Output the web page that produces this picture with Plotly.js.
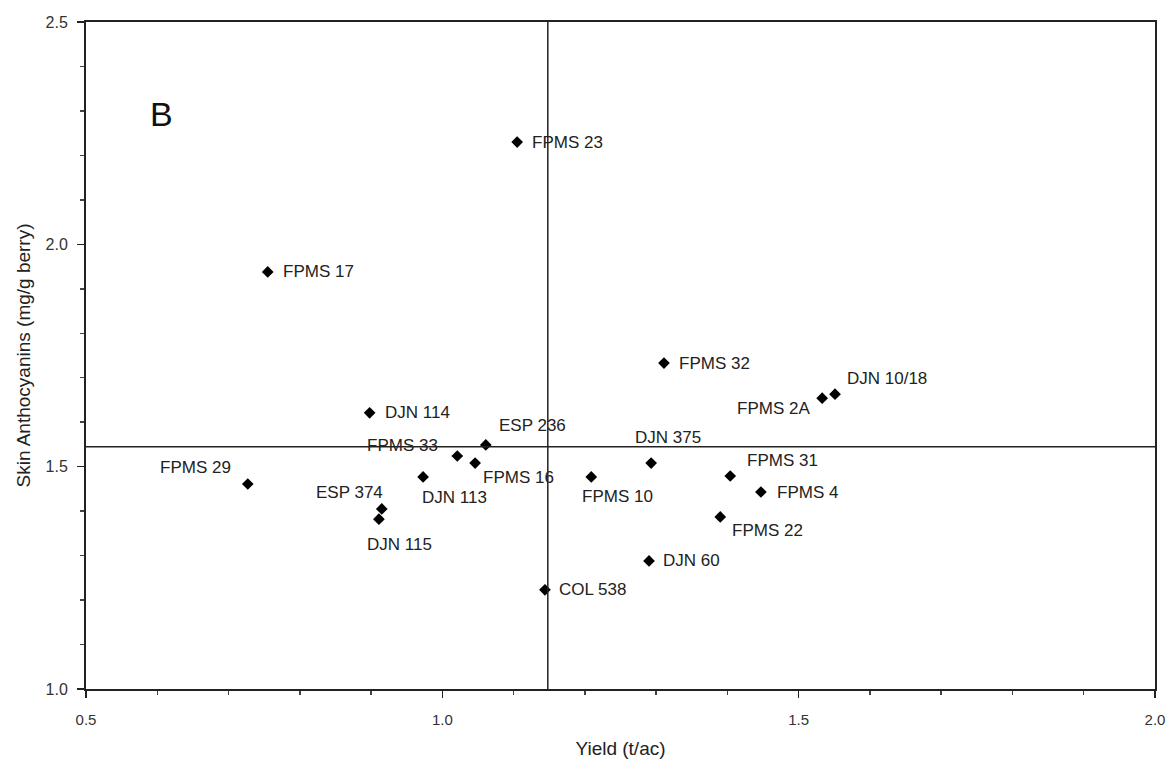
<!DOCTYPE html>
<html>
<head>
<meta charset="utf-8">
<script src="https://cdn.plot.ly/plotly-3.0.1.min.js"></script>
<style>html,body{margin:0;padding:0;background:#fff;}#chart{width:1166px;height:770px;}</style>
</head>
<body>
<div id="chart"></div>
<script>
// Data
const labels = ["FPMS 23","FPMS 17","FPMS 32","DJN 10/18","FPMS 2A","DJN 114","ESP 236","FPMS 33","FPMS 16","DJN 375","DJN 113","FPMS 10","FPMS 31","FPMS 29","FPMS 4","ESP 374","DJN 115","FPMS 22","DJN 60","COL 538"];
const yieldVals = [1.105,0.755,1.311,1.551,1.533,0.898,1.061,1.021,1.046,1.293,0.973,1.209,1.404,0.727,1.447,0.915,0.911,1.390,1.290,1.144];
const anthocyanins = [2.230,1.938,1.733,1.663,1.654,1.621,1.549,1.524,1.508,1.508,1.477,1.477,1.479,1.461,1.443,1.405,1.382,1.387,1.288,1.223];
const meanYield = 1.148;
const meanAnthocyanins = 1.545;
const panelLabel = "B";

// Label placement (style, not data): [xanchor, xshift, yshift]
const placement = [
  ["left",13,0],["left",13,0],["left",13,0],["left",10,16],
  ["right",-10,-10],["left",13,0],["left",11,19],["right",-17,10],
  ["left",6,-14],["left",-18,26],["left",-3,-21],["left",-11,-20],
  ["left",15,16],["right",-15,17],["left",14,0],["right",3,16],
  ["left",-14,-25],["left",10,-14],["left",12,0],["left",12,0]
];

const font = "Liberation Sans, Arial, sans-serif";
const annotations = labels.map((t,i)=>({
  x: yieldVals[i], y: anthocyanins[i], xref:'x', yref:'y', text: t, showarrow:false,
  xanchor: placement[i][0], yanchor:'middle', xshift: placement[i][1], yshift: placement[i][2],
  font:{family:font, size:17, color:'#222'}
}));
annotations.push({x:0.058, y:0.862, xref:'paper', yref:'paper', text:panelLabel, showarrow:false,
  xanchor:'left', yanchor:'middle', font:{family:font, size:34, color:'#111'}});

const traces = [{
  type:'scatter', mode:'markers', x: yieldVals, y: anthocyanins,
  marker:{symbol:'diamond', size:9, color:'#000'}, hoverinfo:'text', text: labels
}];

const layout = {
  width:1166, height:770,
  margin:{l:86, r:11, t:22, b:81},
  paper_bgcolor:'#fff', plot_bgcolor:'#fff',
  showlegend:false,
  font:{family:font, color:'#222'},
  xaxis:{range:[0.5,2.0], dtick:0.5, tick0:0.5, tickformat:'.1f', showgrid:false, zeroline:false,
    showline:true, linewidth:2, linecolor:'#222', mirror:true,
    ticks:'outside', ticklen:7, tickwidth:1.5, tickcolor:'#222', ticklabelstandoff:9,
    minor:{dtick:0.1, ticks:'outside', ticklen:4, tickcolor:'#444', showgrid:false},
    tickfont:{size:15, family:font, color:'#333'},
    title:{text:'Yield (t/ac)', font:{size:19, family:font, color:'#222'}, standoff:15}},
  yaxis:{range:[1.0,2.5], dtick:0.5, tick0:1.0, tickformat:'.1f', showgrid:false, zeroline:false,
    showline:true, linewidth:2, linecolor:'#222', mirror:true,
    ticks:'outside', ticklen:7, tickwidth:1.5, tickcolor:'#222', ticklabelstandoff:6,
    minor:{dtick:0.1, ticks:'outside', ticklen:4, tickcolor:'#444', showgrid:false},
    tickfont:{size:16, family:font, color:'#333'},
    title:{text:'Skin Anthocyanins (mg/g berry)', font:{size:19, family:font, color:'#222'}, standoff:10}},
  shapes:[
    {type:'line', xref:'x', yref:'paper', x0:meanYield, x1:meanYield, y0:0, y1:1, line:{color:'#222', width:1.5}},
    {type:'line', xref:'paper', yref:'y', x0:0, x1:1, y0:meanAnthocyanins, y1:meanAnthocyanins, line:{color:'#222', width:1.5}}
  ],
  annotations: annotations
};

Plotly.newPlot('chart', traces, layout, {displayModeBar:false, staticPlot:true});
</script>
</body>
</html>
